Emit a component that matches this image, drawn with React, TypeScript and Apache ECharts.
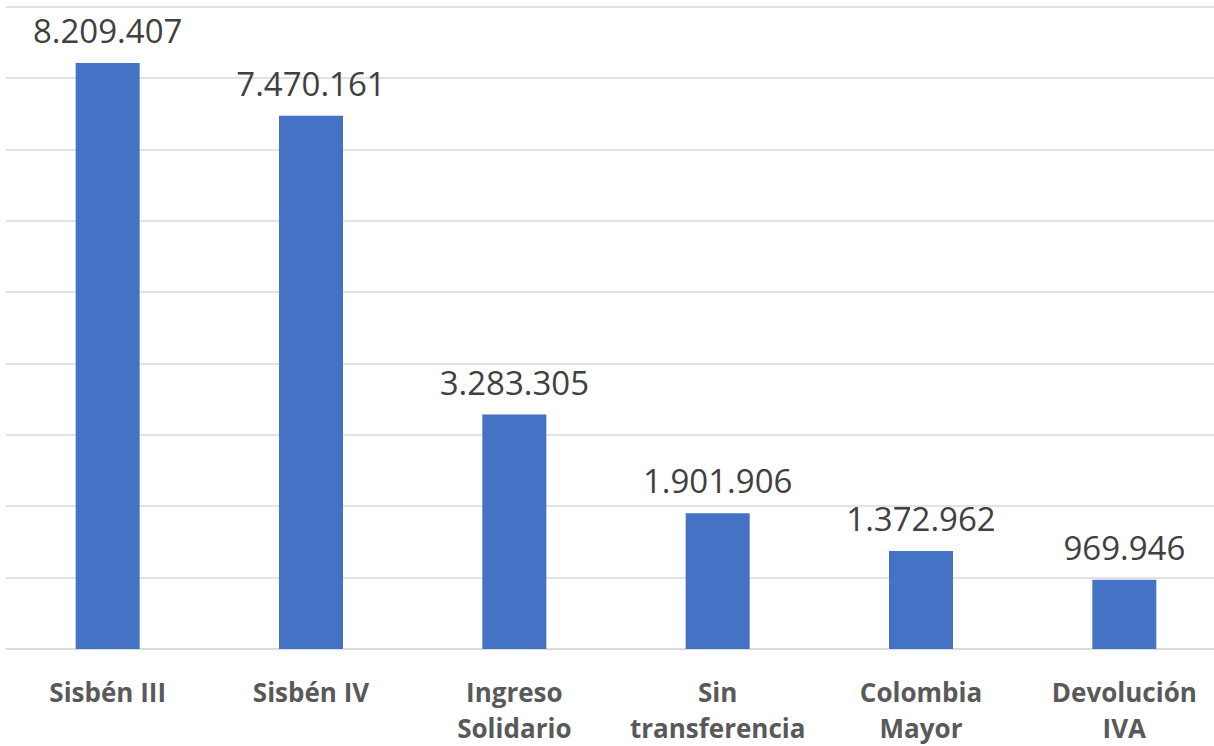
import React, { useEffect, useRef } from "react";
import * as echarts from "echarts";

const categories = [
  "Sisbén III",
  "Sisbén IV",
  "Ingreso\nSolidario",
  "Sin\ntransferencia",
  "Colombia\nMayor",
  "Devolución\nIVA",
];
const values = [8209407, 7470161, 3283305, 1901906, 1372962, 969946];

const fmt = (v: number) => String(v).replace(/\B(?=(\d{3})+(?!\d))/g, ".");

export default function App() {
  const ref = useRef<HTMLDivElement>(null);
  useEffect(() => {
    if (!ref.current) return;
    const chart = echarts.init(ref.current, undefined, { renderer: "svg" });
    chart.setOption({
      animation: false,
      backgroundColor: "#ffffff",
      grid: { left: 6, right: 0, top: 6.5, bottom: 96, containLabel: false },
      xAxis: {
        type: "category",
        data: categories,
        axisLine: { show: true, lineStyle: { color: "#d9d9d9", width: 1.5 } },
        axisTick: { show: false },
        axisLabel: {
          color: "#595959",
          fontFamily: "Open Sans",
          fontWeight: "bold",
          fontSize: 26,
          lineHeight: 36,
          margin: 25,
          interval: 0,
        },
      },
      yAxis: {
        type: "value",
        min: 0,
        max: 9000000,
        interval: 1000000,
        axisLabel: { show: false },
        axisLine: { show: false },
        axisTick: { show: false },
        splitLine: { lineStyle: { color: "#d9d9d9", width: 1.5 } },
      },
      series: [
        {
          type: "bar",
          data: values,
          barWidth: 64,
          itemStyle: { color: "#4472c4" },
          label: {
            show: true,
            position: "top",
            distance: 16,
            color: "#404040",
            fontFamily: "Open Sans",
            fontSize: 33,
            formatter: (p: any) => fmt(p.value),
          },
        },
      ],
    });
    return () => chart.dispose();
  }, []);
  return (
    <div
      style={{
        position: "fixed",
        left: 0,
        top: 0,
        width: 1214,
        height: 746,
        overflow: "hidden",
        background: "#fff",
      }}
    >
      <div ref={ref} style={{ width: 1226, height: 746 }} />
    </div>
  );
}
